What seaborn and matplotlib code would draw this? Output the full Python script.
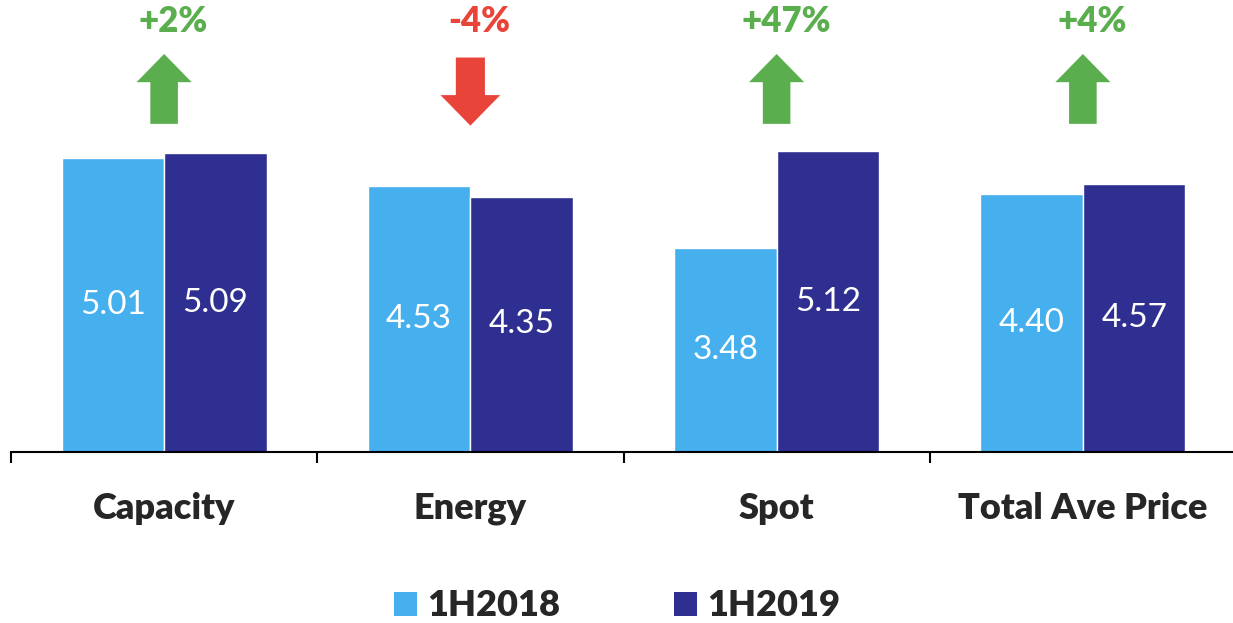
import matplotlib
matplotlib.use("Agg")
import matplotlib.pyplot as plt
import seaborn as sns
import pandas as pd
from matplotlib.patches import FancyArrow, Patch

categories = ["Capacity", "Energy", "Spot", "Total Ave Price"]
series_names = ["1H2018", "1H2019"]
values_2018 = [5.01, 4.53, 3.48, 4.40]
values_2019 = [5.09, 4.35, 5.12, 4.57]
changes = ["+2%", "-4%", "+47%", "+4%"]
directions = [1, -1, 1, 1]

c18 = "#46AFEE"
c19 = "#2E2F91"
green = "#5AAE4E"
red = "#E8443A"

df = pd.DataFrame({
    "cat": categories * 2,
    "period": [series_names[0]] * 4 + [series_names[1]] * 4,
    "val": values_2018 + values_2019,
})

sns.set_style("white")
plt.rcParams['font.family'] = ['Lato', 'DejaVu Sans']

fig = plt.figure(figsize=(12.33, 6.23), dpi=100)
ax = fig.add_axes([11/1233, 171/623, 1225/1233, 452/623])

sns.barplot(data=df, x="cat", y="val", hue="period", order=categories,
            hue_order=series_names, palette=[c18, c19], width=0.67,
            saturation=1, ax=ax, legend=False)

ax.set_xlim(-0.5, 3.5)
ax.set_ylim(0, 7.7)
ax.set_xlabel("")
ax.set_ylabel("")
ax.set_yticks([])
for s in ["left", "top", "right"]:
    ax.spines[s].set_visible(False)
ax.spines["bottom"].set_color("black")
ax.spines["bottom"].set_linewidth(1.5)

ax.set_xticks(range(len(categories)))
ax.set_xticklabels(categories, fontsize=26, fontweight="heavy")
ax.tick_params(axis="x", which="major", length=0, pad=29, bottom=True)
ax.set_xticks([i - 0.5 for i in range(len(categories) + 1)], minor=True)
ax.tick_params(axis="x", which="minor", length=8, width=1.5, color="black",
               direction="out", bottom=True)

# value labels
for cont in ax.containers:
    for bar in cont:
        h = bar.get_height()
        ax.text(bar.get_x() + bar.get_width() / 2, h / 2, f"{h:.2f}",
                ha="center", va="center", color="white", fontsize=24)

# arrows and change labels
for i, (chg, d) in enumerate(zip(changes, directions)):
    col = green if d > 0 else red
    if d > 0:
        arr = FancyArrow(i, 5.59, 0, 6.78 - 5.59, width=0.09, head_width=0.18,
                         head_length=0.48, length_includes_head=True,
                         color=col, linewidth=0)
    else:
        arr = FancyArrow(i, 6.72, 0, 5.56 - 6.72, width=0.095, head_width=0.195,
                         head_length=0.52, length_includes_head=True,
                         color=col, linewidth=0)
    ax.add_patch(arr)
    ax.text(i + 0.03, 7.33, chg, ha="center", va="center", color=col,
            fontsize=25, fontweight="heavy")

# legend
handles = [Patch(facecolor=c18, edgecolor="none"), Patch(facecolor=c19, edgecolor="none")]
fig.legend(handles, series_names, loc="center", bbox_to_anchor=(617/1233, 1 - 606/623),
           ncol=2, frameon=False, handlelength=0.65, handleheight=0.65,
           handletextpad=0.28, columnspacing=3.15,
           prop={"size": 26, "weight": "heavy"})

fig.savefig("out.png", dpi=100)
